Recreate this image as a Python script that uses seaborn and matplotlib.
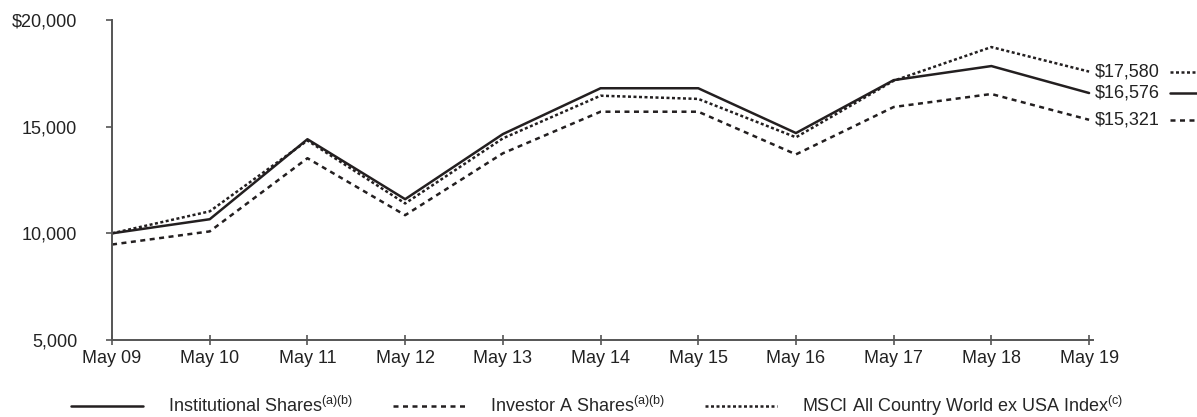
import numpy as np
import pandas as pd
import matplotlib
matplotlib.use('Agg')
import matplotlib.pyplot as plt
from matplotlib.lines import Line2D
import matplotlib.transforms as mtransforms
import seaborn as sns

###
#   DATA
###
years = ['May 09', 'May 10', 'May 11', 'May 12', 'May 13', 'May 14',
         'May 15', 'May 16', 'May 17', 'May 18', 'May 19']
institutional = [10000, 10660, 14410, 11600, 14650, 16800, 16800, 14700, 17180, 17840, 16576]
investor_a = [9475, 10090, 13520, 10850, 13750, 15700, 15700, 13700, 15920, 16530, 15321]
msci = [10000, 11030, 14350, 11400, 14450, 16450, 16300, 14500, 17150, 18730, 17580]

series_names = ['Institutional Shares', 'Investor A Shares', 'MSCI All Country World ex USA Index']
legend_labels = [r'Institutional Shares$^{\mathrm{(a)(b)}}$',
                 r'Investor A Shares$^{\mathrm{(a)(b)}}$',
                 r'MSCI All Country World ex USA Index$^{\mathrm{(c)}}$']
end_labels = ['$16,576', '$15,321', '$17,580']
y_ticks = [5000, 10000, 15000, 20000]
y_ticklabels = ['5,000', '10,000', '15,000', '$20,000']

###
#   STYLE
###
sns.set_style('ticks')
plt.rcParams['font.family'] = ['Liberation Sans', 'DejaVu Sans']
plt.rcParams['mathtext.fontset'] = 'custom'
plt.rcParams['mathtext.rm'] = 'Liberation Sans'
plt.rcParams['font.size'] = 13

LINE = '#231f20'
SPINE = '#555555'
LW = 1.8
dashes = {
    series_names[0]: '',
    series_names[1]: (2.0, 1.8),
    series_names[2]: (1.2, 1.0),
}

df = pd.DataFrame({
    'x': list(range(len(years))) * 3,
    'value': institutional + investor_a + msci,
    'series': [s for s in series_names for _ in years],
})

###
#   FIGURE
###
fig = plt.figure(figsize=(11.97, 4.17), dpi=100)
ax = fig.add_axes([0.0936, 0.1847, 0.8195, 0.7674])

sns.lineplot(data=df, x='x', y='value', style='series', dashes=dashes,
             color=LINE, linewidth=LW, legend=False, ax=ax)

ax.set_xlim(0, 10.04)
ax.set_ylim(5000, 20000)
ax.set_xticks(range(len(years)))
ax.set_xticklabels(years)
ax.set_yticks(y_ticks)
ax.set_yticklabels(y_ticklabels)
ax.set_xlabel('')
ax.set_ylabel('')

for side in ['top', 'right']:
    ax.spines[side].set_visible(False)
for side in ['left', 'bottom']:
    ax.spines[side].set_color(SPINE)
    ax.spines[side].set_linewidth(1.4)

ax.tick_params(axis='x', direction='inout', length=7, width=1.2, color=SPINE,
               pad=4, labelsize=13, labelcolor='#222222')
ax.tick_params(axis='y', direction='out', length=4, width=1.2, color=SPINE,
               pad=21, labelsize=13, labelcolor='#222222')

###
#   END LABELS
###
ends = [institutional[-1], investor_a[-1], msci[-1]]
styles = ['-', (0, dashes[series_names[1]]), (0, dashes[series_names[2]])]
blend = mtransforms.blended_transform_factory(ax.transAxes, ax.transData)
for val, lab, ls in zip(ends, end_labels, styles):
    ax.annotate(lab, xy=(10, val), xytext=(4, 0), textcoords='offset points',
                ha='left', va='center', fontsize=13, color='#222222',
                annotation_clip=False)
    ax.add_line(Line2D([1.0787, 1.108], [val, val], transform=blend,
                       color=LINE, linewidth=LW, linestyle=ls, clip_on=False))

###
#   LEGEND
###
handles = [Line2D([], [], color=LINE, linewidth=LW, linestyle=ls) for ls in styles]
fig.legend(handles, legend_labels, ncol=3, loc='center left',
           bbox_to_anchor=(0.0593, 0.026), frameon=False, fontsize=13,
           handlelength=4.0, handletextpad=1.38, columnspacing=2.2,
           borderpad=0, borderaxespad=0)

fig.savefig('out.png', dpi=100)
